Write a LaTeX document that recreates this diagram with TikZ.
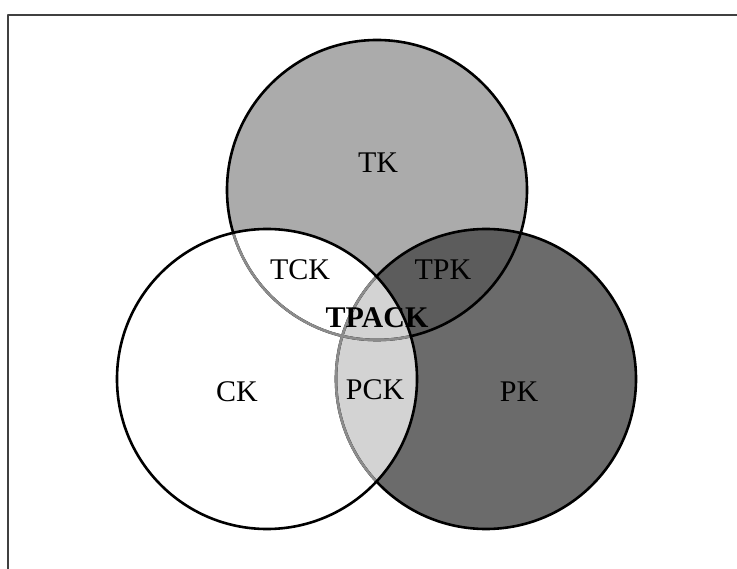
\documentclass[tikz,border=0pt]{standalone}
\usepackage{fontspec}
\setmainfont{Liberation Serif}
\definecolor{tkgray}{HTML}{ABABAB}
\definecolor{pkgray}{HTML}{6B6B6B}
\definecolor{tpkgray}{HTML}{5C5C5C}
\definecolor{pckgray}{HTML}{D3D3D3}
\definecolor{rimgray}{HTML}{8C8C8C}
\begin{document}
\begin{tikzpicture}[x=1pt, y=-1pt, line join=round, line cap=round,
  font=\fontsize{30}{36}\selectfont,
  rim/.style={line width=2.6pt},
  lbl/.style={inner sep=0pt}]
\useasboundingbox (0,0) rectangle (737,569);
\draw[line width=2pt, color=black!75] (8,569)--(8,15)--(737,15);
\path
(377,190) coordinate (tk)
(267,379) coordinate (ck)
(486,379) coordinate (pk)
;
% fills
\fill[tkgray] (tk) circle (150);
\fill[pkgray] (pk) circle (150);
\begin{scope}
\clip (tk) circle (150);
\fill[tpkgray] (pk) circle (150);
\end{scope}
\fill[white] (ck) circle (150);
\begin{scope}
\clip (ck) circle (150);
\fill[pckgray] (pk) circle (150);
\end{scope}
% outlines
\draw[rim] (tk) circle (150) (pk) circle (150);
\begin{scope}
\clip (ck) circle (150);
\draw[rim, rimgray] (tk) circle (150) (pk) circle (150);
\end{scope}
\draw[rim] (ck) circle (150);
% labels
\node[lbl] (TK) at (378,163) {TK};
\node[lbl] (TCK) at (300,270) {TCK};
\node[lbl] (TPK) at (443,270) {TPK};
\node[lbl, font=\fontsize{30}{36}\selectfont\bfseries] (TPACK) at (377,318) {TPACK};
\node[lbl] (CK) at (237,392) {CK};
\node[lbl] (PCK) at (375,390) {PCK};
\node[lbl] (PK) at (519,392) {PK};
\end{tikzpicture}
\end{document}
